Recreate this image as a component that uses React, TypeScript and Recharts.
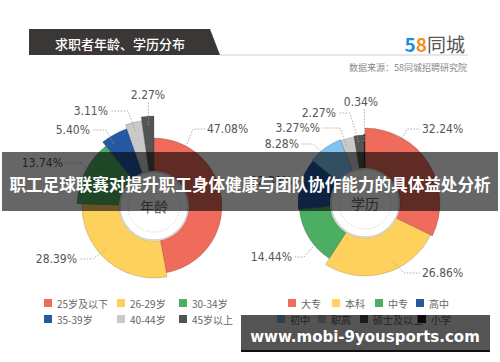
import React from "react";
import { PieChart, Pie, Cell } from "recharts";

// 求职者年龄
const ageNames = ["25岁及以下", "26-29岁", "30-34岁", "35-39岁", "40-44岁", "45岁以上"];
const ageValues = [47.08, 28.39, 13.74, 5.4, 3.11, 2.27];
const ageLabels = ["47.08%", "28.39%", "13.74%", "5.40%", "3.11%", "2.27%"];

// 求职者学历
const eduNames = ["大专", "本科", "中专", "高中", "初中", "职高", "硕士及以上", "小学"];
const eduValues = [32.24, 26.86, 14.44, 12.3, 8.28, 3.27, 2.27, 0.34];
const eduLabels = ["32.24%", "26.86%", "14.44%", "12.30%", "8.28%", "3.27%%", "2.27%", "0.34%"];

const ageColors = ["#ef6b5b", "#fdd15b", "#4cae62", "#2559a2", "#c9c9c9", "#545454"];
const eduColors = ["#ef6b5b", "#fdd15b", "#4cae62", "#2559a2", "#7ec4f3", "#c9c9c9", "#545454", "#262626"];

// per-slice outer radius (rose style)
const ageRadii = [68, 72, 77, 82, 86, 90];
const eduRadii = [75, 73, 66, 67, 68, 67, 68, 69];

type LabelPos = { a: number; dx: number; dy: number; anchor: "start" | "end" | "middle"; gap: number };

const ageLabelPos: LabelPos[] = [
  { a: 61, dx: 53, dy: -77, anchor: "start", gap: 14 },
  { a: 222, dx: -77, dy: 53, anchor: "end", gap: 16 },
  { a: 152, dx: -91, dy: -43, anchor: "end", gap: 18 },
  { a: 123, dx: -64, dy: -76, anchor: "end", gap: 16 },
  { a: 104, dx: -46, dy: -95, anchor: "end", gap: 20 },
  { a: 94, dx: -6, dy: -111, anchor: "middle", gap: 0 },
];

const eduLabelPos: LabelPos[] = [
  { a: 60, dx: 57, dy: -74, anchor: "start", gap: 15 },
  { a: 296, dx: 57, dy: 70, anchor: "start", gap: 18 },
  { a: 219, dx: -73, dy: 54, anchor: "end", gap: 12 },
  { a: 160, dx: -73, dy: -22, anchor: "end", gap: 14 },
  { a: 130, dx: -66, dy: -59, anchor: "end", gap: 14 },
  { a: 108, dx: -45, dy: -75, anchor: "end", gap: 20 },
  { a: 96, dx: -29, dy: -90, anchor: "end", gap: 14 },
  { a: 90.6, dx: -4, dy: -101, anchor: "middle", gap: 0 },
];

const ageData = ageNames.map((name, i) => ({ name, value: ageValues[i] }));
const eduData = eduNames.map((name, i) => ({ name, value: eduValues[i] }));

const LEFT = { cx: 154, cy: 206 };
const RIGHT = { cx: 365, cy: 203 };
const INNER = 35;
const labelFont = "'Liberation Sans Narrow', 'DejaVu Sans Condensed', 'Noto Sans', sans-serif";
const cjkFont = "'Noto Sans CJK SC', 'Noto Sans', sans-serif";

function makeLabel(k: number, pos: LabelPos, text: string, cx: number, cy: number) {
  return (p: any) => {
    if (p.index !== k) return null;
    const rad = (Math.PI / 180) * pos.a;
    const r = p.outerRadius * 0.9;
    const sx = cx + r * Math.cos(rad);
    const sy = cy - r * Math.sin(rad);
    const tx = cx + pos.dx;
    const ty = cy + pos.dy;
    let pts: string;
    if (pos.anchor === "middle") {
      pts = `${sx},${sy} ${sx},${ty + 7}`;
    } else {
      const dir = pos.anchor === "start" ? -1 : 1;
      pts = `${sx},${sy} ${tx + dir * pos.gap},${ty} ${tx + dir * 2},${ty}`;
    }
    return (
      <g>
        <polyline points={pts} fill="none" stroke="#9a9a9a" strokeWidth={0.8} strokeDasharray="1.5 1.5" />
        <text x={tx} y={ty} textAnchor={pos.anchor} dominantBaseline="central" fontSize={12}
          fill="#555" fontFamily={labelFont}>{text}</text>
      </g>
    );
  };
}

function Legend({ names, colors, xs, y }: { names: string[]; colors: string[]; xs: number[]; y: number }) {
  return (
    <g>
      {names.map((n, i) => (
        <g key={n}>
          <rect x={xs[i]} y={y - 4} width={8} height={8} fill={colors[i]} />
          <text x={xs[i] + 13} y={y} dominantBaseline="central" fontSize={10} fill="#666" fontFamily={cjkFont}>{n}</text>
        </g>
      ))}
    </g>
  );
}

export default function App() {
  return (
    <div style={{ position: "absolute", left: 0, top: 0, width: 500, height: 362, background: "#fff" }}>
      <PieChart width={500} height={362} margin={{ top: 0, right: 0, bottom: 0, left: 0 }}>
        {ageValues.map((_, k) => (
          <Pie key={"age" + k} data={ageData} dataKey="value" cx={LEFT.cx} cy={LEFT.cy}
            innerRadius={INNER} outerRadius={ageRadii[k]} startAngle={90} endAngle={-270}
            isAnimationActive={false} labelLine={false}
            label={makeLabel(k, ageLabelPos[k], ageLabels[k], LEFT.cx, LEFT.cy)}>
            {ageData.map((d, i) => (
              <Cell key={d.name} fill={i === k ? ageColors[i] : "transparent"}
                stroke={i === k ? "rgba(0,0,0,0.25)" : "none"} strokeWidth={0.6} />
            ))}
          </Pie>
        ))}
        {eduValues.map((_, k) => (
          <Pie key={"edu" + k} data={eduData} dataKey="value" cx={RIGHT.cx} cy={RIGHT.cy}
            innerRadius={INNER} outerRadius={eduRadii[k]} startAngle={90} endAngle={-270}
            isAnimationActive={false} labelLine={false}
            label={makeLabel(k, eduLabelPos[k], eduLabels[k], RIGHT.cx, RIGHT.cy)}>
            {eduData.map((d, i) => (
              <Cell key={d.name} fill={i === k ? eduColors[i] : "transparent"}
                stroke={i === k ? "rgba(0,0,0,0.25)" : "none"} strokeWidth={0.6} />
            ))}
          </Pie>
        ))}
      </PieChart>

      <svg width={500} height={362} style={{ position: "absolute", left: 0, top: 0, pointerEvents: "none" }}>
        {/* header */}
        <polygon points="29,29 210,29 220,55 29,55" fill="#3b3737" />
        <text x={55} y={43} dominantBaseline="central" fontSize={13} fontWeight={500} fill="#fff" fontFamily={cjkFont}>求职者年龄、学历分布</text>
        <line x1={220} y1={55} x2={468} y2={55} stroke="#cfcfcf" strokeWidth={1} />
        <text x={465} y={43} textAnchor="end" dominantBaseline="central" fontSize={19} fontFamily={cjkFont}>
          <tspan fill="#1b8fe0" fontWeight="bold">5</tspan>
          <tspan fill="#f39019" fontWeight="bold">8</tspan>
          <tspan fill="#555">同城</tspan>
        </text>
        <text x={467} y={67} textAnchor="end" dominantBaseline="central" fontSize={9} fill="#888" fontFamily={cjkFont}>数据来源：58同城招聘研究院</text>

        {/* donut centers */}
        {[{ ...LEFT, t: "年龄" }, { ...RIGHT, t: "学历" }].map((c) => (
          <g key={c.t}>
            <circle cx={c.cx} cy={c.cy} r={INNER - 1} fill="none" stroke="#d5d5d5" strokeWidth={1.5} />
            <circle cx={c.cx} cy={c.cy} r={26} fill="none" stroke="#aaa" strokeWidth={0.7} strokeDasharray="1 2" />
            <text x={c.cx} y={c.cy} textAnchor="middle" dominantBaseline="central" fontSize={14} fill="#666" fontFamily={cjkFont}>{c.t}</text>
          </g>
        ))}

        {/* legends */}
        <Legend names={ageNames.slice(0, 3)} colors={ageColors.slice(0, 3)} xs={[44, 117, 179]} y={303} />
        <Legend names={ageNames.slice(3)} colors={ageColors.slice(3)} xs={[44, 117, 179]} y={319} />
        <Legend names={eduNames.slice(0, 4)} colors={eduColors.slice(0, 4)} xs={[288, 332, 375, 416]} y={303} />
        <Legend names={eduNames.slice(4)} colors={eduColors.slice(4)} xs={[277, 318, 360, 418]} y={319} />

        {/* overlay banners */}
        <rect x={2} y={152} width={496} height={59} fill="rgba(0,0,0,0.6)" />
        <text x={250} y={184} textAnchor="middle" dominantBaseline="central" fontSize={16.6} fontWeight="bold"
          fill="#fff" fontFamily={cjkFont}>职工足球联赛对提升职工身体健康与团队协作能力的具体益处分析</text>
        <rect x={241} y={315} width={249} height={37} fill="rgba(0,0,0,0.67)" />
        <rect x={241} y={350} width={249} height={2} fill="#111" />
        <text x={365} y={337} textAnchor="middle" dominantBaseline="central" fontSize={15} fontWeight="bold"
          fill="#fff" fontFamily="'DejaVu Sans', sans-serif">www.mobi-9yousports.com</text>
      </svg>
    </div>
  );
}
